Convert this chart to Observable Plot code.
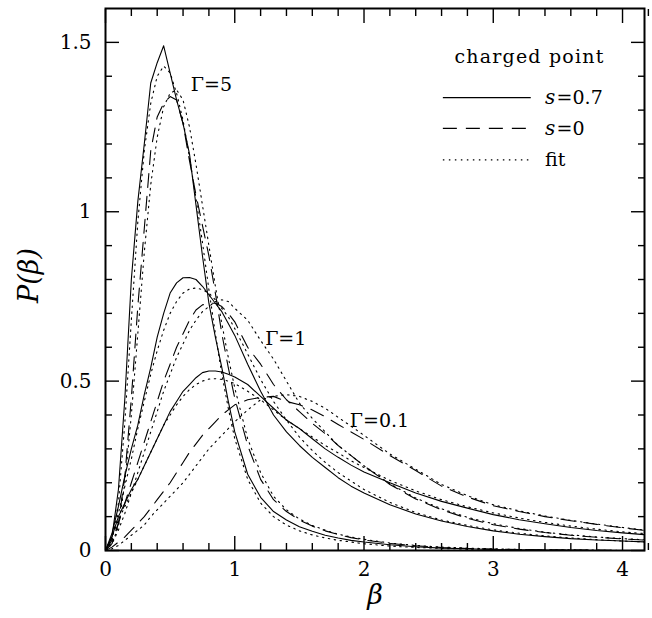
<!DOCTYPE html>
<html>
<head>
<meta charset="utf-8">
<script src="https://cdn.jsdelivr.net/npm/d3@7"></script>
<script src="https://cdn.jsdelivr.net/npm/@observablehq/plot@0.6"></script>
<style>
  html, body { margin: 0; padding: 0; background: #fff; }
  #chart { width: 652px; height: 618px; }
</style>
</head>
<body>
<div id="chart"></div>
<script>
// ---------- data ----------
const beta = [0, 0.05, 0.1, 0.15, 0.2, 0.25, 0.3, 0.35, 0.4, 0.45, 0.5, 0.55, 0.6, 0.65, 0.7, 0.75, 0.8, 0.85, 0.9, 0.95,
  1.0, 1.1, 1.2, 1.3, 1.4, 1.5, 1.6, 1.7, 1.8, 1.9, 2.0, 2.2, 2.4, 2.6, 2.8, 3.0, 3.2, 3.4, 3.6, 3.8, 4.0, 4.2];

// Gamma = 5
const g5_s07 = [0, 0.04, 0.18, 0.45, 0.8, 1.03, 1.2, 1.38, 1.44, 1.49, 1.41, 1.33, 1.26, 1.17, 1.02, 0.87, 0.73, 0.63, 0.54, 0.44,
  0.35, 0.225, 0.157, 0.115, 0.09, 0.07, 0.057, 0.045, 0.037, 0.03, 0.025, 0.017, 0.011, 0.007, 0.005, 0.003, 0.002, 0.001, 0.001, 0, 0, 0];
const g5_s0 = [0, 0.02, 0.08, 0.22, 0.45, 0.72, 0.95, 1.18, 1.28, 1.32, 1.34, 1.33, 1.26, 1.15, 1.05, 0.96, 0.87, 0.76, 0.64, 0.54,
  0.45, 0.31, 0.21, 0.15, 0.115, 0.09, 0.072, 0.058, 0.047, 0.038, 0.031, 0.021, 0.014, 0.009, 0.006, 0.004, 0.003, 0.002, 0.001, 0.001, 0, 0];
const g5_fit07 = [0, 0.03, 0.14, 0.38, 0.68, 0.97, 1.18, 1.32, 1.40, 1.43, 1.41, 1.35, 1.27, 1.16, 1.04, 0.91, 0.77, 0.64, 0.52, 0.42,
  0.33, 0.21, 0.14, 0.1, 0.075, 0.058, 0.046, 0.037, 0.03, 0.025, 0.02, 0.013, 0.009, 0.006, 0.004, 0.003, 0.002, 0.001, 0.001, 0, 0, 0];
const g5_fit0 = [0, 0.02, 0.07, 0.2, 0.4, 0.64, 0.88, 1.08, 1.22, 1.31, 1.35, 1.36, 1.33, 1.25, 1.14, 1.02, 0.9, 0.78, 0.67, 0.57,
  0.48, 0.33, 0.23, 0.16, 0.12, 0.093, 0.074, 0.06, 0.048, 0.04, 0.033, 0.022, 0.015, 0.01, 0.007, 0.005, 0.003, 0.002, 0.001, 0.001, 0, 0];

// Gamma = 1
const g1_s07 = [0, 0.05, 0.13, 0.22, 0.3, 0.37, 0.46, 0.54, 0.63, 0.7, 0.76, 0.79, 0.805, 0.806, 0.8, 0.78, 0.755, 0.73, 0.705, 0.67,
  0.635, 0.55, 0.47, 0.4, 0.35, 0.31, 0.275, 0.245, 0.215, 0.19, 0.17, 0.135, 0.108, 0.087, 0.071, 0.058, 0.048, 0.041, 0.035, 0.031, 0.028, 0.025];
const g1_s0 = [0, 0.03, 0.08, 0.14, 0.2, 0.26, 0.32, 0.38, 0.44, 0.5, 0.55, 0.6, 0.64, 0.68, 0.71, 0.725, 0.73, 0.73, 0.72, 0.7,
  0.675, 0.6, 0.55, 0.49, 0.445, 0.41, 0.375, 0.345, 0.31, 0.28, 0.25, 0.195, 0.152, 0.12, 0.095, 0.076, 0.063, 0.053, 0.045, 0.039, 0.034, 0.03];
const g1_fit07 = [0, 0.04, 0.11, 0.19, 0.27, 0.36, 0.44, 0.52, 0.59, 0.65, 0.7, 0.735, 0.76, 0.772, 0.775, 0.77, 0.76, 0.74, 0.715, 0.69,
  0.655, 0.58, 0.505, 0.44, 0.385, 0.335, 0.295, 0.26, 0.23, 0.205, 0.18, 0.142, 0.112, 0.09, 0.074, 0.061, 0.051, 0.043, 0.037, 0.032, 0.028, 0.025];
const g1_fit0 = [0, 0.02, 0.06, 0.11, 0.17, 0.23, 0.29, 0.35, 0.41, 0.47, 0.52, 0.57, 0.61, 0.65, 0.68, 0.705, 0.72, 0.735, 0.74, 0.735,
  0.715, 0.68, 0.62, 0.565, 0.5, 0.435, 0.39, 0.35, 0.31, 0.28, 0.25, 0.197, 0.155, 0.123, 0.098, 0.079, 0.065, 0.054, 0.046, 0.04, 0.035, 0.031];

// Gamma = 0.1
const g01_s07 = [0, 0.04, 0.1, 0.14, 0.18, 0.21, 0.25, 0.29, 0.33, 0.37, 0.41, 0.44, 0.47, 0.49, 0.51, 0.525, 0.53, 0.53, 0.527, 0.52,
  0.512, 0.49, 0.455, 0.42, 0.385, 0.36, 0.33, 0.3, 0.275, 0.252, 0.232, 0.2, 0.17, 0.145, 0.125, 0.106, 0.091, 0.079, 0.068, 0.059, 0.052, 0.046];
const g01_s0 = [0, 0.01, 0.025, 0.04, 0.06, 0.08, 0.1, 0.125, 0.15, 0.175, 0.2, 0.23, 0.26, 0.29, 0.315, 0.34, 0.36, 0.38, 0.4, 0.415,
  0.43, 0.445, 0.452, 0.455, 0.44, 0.43, 0.415, 0.395, 0.372, 0.35, 0.328, 0.28, 0.236, 0.19, 0.158, 0.132, 0.115, 0.1, 0.088, 0.077, 0.067, 0.058];
const g01_fit07 = [0, 0.04, 0.09, 0.13, 0.17, 0.21, 0.25, 0.29, 0.33, 0.37, 0.4, 0.43, 0.455, 0.475, 0.49, 0.5, 0.506, 0.507, 0.505, 0.5,
  0.493, 0.47, 0.445, 0.415, 0.385, 0.36, 0.335, 0.31, 0.288, 0.265, 0.245, 0.207, 0.176, 0.15, 0.129, 0.111, 0.096, 0.083, 0.072, 0.063, 0.055, 0.049];
const g01_fit0 = [0, 0.005, 0.015, 0.03, 0.045, 0.06, 0.075, 0.1, 0.12, 0.14, 0.16, 0.18, 0.2, 0.225, 0.25, 0.275, 0.3, 0.32, 0.34, 0.36,
  0.38, 0.415, 0.445, 0.455, 0.46, 0.455, 0.44, 0.42, 0.393, 0.367, 0.34, 0.285, 0.24, 0.195, 0.162, 0.135, 0.117, 0.102, 0.089, 0.078, 0.068, 0.059];

// tick values
const xTicks = [0, 1, 2, 3, 4];
const xMinorTicks = [0.2, 0.4, 0.6, 0.8, 1.2, 1.4, 1.6, 1.8, 2.2, 2.4, 2.6, 2.8, 3.2, 3.4, 3.6, 3.8, 4.2];
const yTicks = [0, 0.5, 1, 1.5];
const yMinorTicks = [0.1, 0.2, 0.3, 0.4, 0.6, 0.7, 0.8, 0.9, 1.1, 1.2, 1.3, 1.4];
const yTickLabels = ["0", "0.5", "1", "1.5"];

// curve labels
const gammaText = ["Γ=5", "Γ=1", "Γ=0.1"];
const gammaBeta = [0.66, 1.235, 1.89];
const gammaP = [1.373, 0.626, 0.384];

// legend
const legendTitle = "charged point";
const legendStyles = ["solid", "dashed", "dotted"];
const legendSym = ["s", "s", ""];
const legendRest = ["=0.7", "=0", "fit"];

// ---------- build rows ----------
const series = [
  {id: "g5_s07", style: "solid", v: g5_s07},
  {id: "g5_s0", style: "dashed", v: g5_s0},
  {id: "g5_fit07", style: "dotted", v: g5_fit07},
  {id: "g5_fit0", style: "dotted", v: g5_fit0},
  {id: "g1_s07", style: "solid", v: g1_s07},
  {id: "g1_s0", style: "dashed", v: g1_s0},
  {id: "g1_fit07", style: "dotted", v: g1_fit07},
  {id: "g1_fit0", style: "dotted", v: g1_fit0},
  {id: "g01_s07", style: "solid", v: g01_s07},
  {id: "g01_s0", style: "dashed", v: g01_s0},
  {id: "g01_fit07", style: "dotted", v: g01_fit07},
  {id: "g01_fit0", style: "dotted", v: g01_fit0}
];
const rows = series.flatMap(s => s.v.map((p, i) => ({beta: beta[i], p, id: s.id, style: s.style})));
const dash = {solid: null, dashed: "14,9", dotted: "1.5,4.5"};

const gammaRows = gammaText.map((t, i) => ({t, x: gammaBeta[i], y: gammaP[i]}));

// legend layout (data units)
const LX1 = 2.61, LX2 = 3.29, LTX = 3.40, LRX = 3.49;
const LY = [1.337, 1.246, 1.153];
const legendRows = legendStyles.map((s, i) => ({style: s, y: LY[i], sym: legendSym[i], rest: legendRest[i]}));

const lineMark = (style) => Plot.line(rows.filter(d => d.style === style), {
  x: "beta", y: "p", z: "id", stroke: "black", strokeWidth: 1.1,
  strokeDasharray: dash[style], clip: true
});
const legendLine = (style) => Plot.link(legendRows.filter(d => d.style === style), {
  x1: LX1, x2: LX2, y1: "y", y2: "y", stroke: "black", strokeWidth: 1.1, strokeDasharray: dash[style]
});
const tickOpts = {tickFormat: () => "", label: null, strokeWidth: 1.4};

const chart = Plot.plot({
  width: 652,
  height: 618,
  marginLeft: 105,
  marginRight: 8,
  marginTop: 8,
  marginBottom: 68,
  x: {domain: [0, 4.17]},
  y: {domain: [0, 1.6]},
  style: {fontFamily: "'DejaVu Serif', serif", fontSize: "20px", background: "white", color: "black"},
  marks: [
    lineMark("solid"),
    lineMark("dashed"),
    lineMark("dotted"),
    // ticks (inward, all four sides)
    Plot.axisX(xTicks, {anchor: "bottom", tickSize: -14, ...tickOpts}),
    Plot.axisX(xMinorTicks, {anchor: "bottom", tickSize: -7, ...tickOpts}),
    Plot.axisX(xTicks, {anchor: "top", tickSize: -14, ...tickOpts}),
    Plot.axisX(xMinorTicks, {anchor: "top", tickSize: -7, ...tickOpts}),
    Plot.axisY(yTicks, {anchor: "left", tickSize: -14, ...tickOpts}),
    Plot.axisY(yMinorTicks, {anchor: "left", tickSize: -7, ...tickOpts}),
    Plot.axisY(yTicks, {anchor: "right", tickSize: -14, ...tickOpts}),
    Plot.axisY(yMinorTicks, {anchor: "right", tickSize: -7, ...tickOpts}),
    // tick labels
    Plot.axisX(xTicks, {anchor: "bottom", tickSize: 0, tickPadding: 11, tickFormat: d => String(d), label: null}),
    Plot.axisY(yTicks, {anchor: "left", tickSize: 0, tickPadding: 14, tickFormat: d => yTickLabels[yTicks.indexOf(d)], label: null}),
    Plot.frame({strokeWidth: 2}),
    // axis titles
    Plot.text(["β"], {frameAnchor: "bottom", dy: 45, lineAnchor: "middle", fontStyle: "italic", fontSize: 27}),
    Plot.text(["P(β)"], {frameAnchor: "left", dx: -76, dy: -4, rotate: -90, textAnchor: "middle", lineAnchor: "middle", fontStyle: "italic", fontSize: 27}),
    // curve labels
    Plot.text(gammaRows, {x: "x", y: "y", text: "t", textAnchor: "start", fontSize: 19}),
    // legend
    Plot.text([legendTitle], {x: (LX1 + 3.95) / 2, y: 1.456, fontSize: 19, className: "legend-title"}),
    legendLine("solid"),
    legendLine("dashed"),
    legendLine("dotted"),
    Plot.text(legendRows.filter(d => d.sym), {x: LTX, y: "y", text: "sym", textAnchor: "start", fontStyle: "italic", fontSize: 20}),
    Plot.text(legendRows.filter(d => d.sym), {x: LRX, y: "y", text: "rest", textAnchor: "start", fontSize: 19}),
    Plot.text(legendRows.filter(d => !d.sym), {x: LTX, y: "y", text: "rest", textAnchor: "start", fontSize: 19})
  ]
});

document.getElementById("chart").appendChild(chart);
d3.select(chart).selectAll(".legend-title text").style("letter-spacing", "1.2px");
</script>
</body>
</html>
